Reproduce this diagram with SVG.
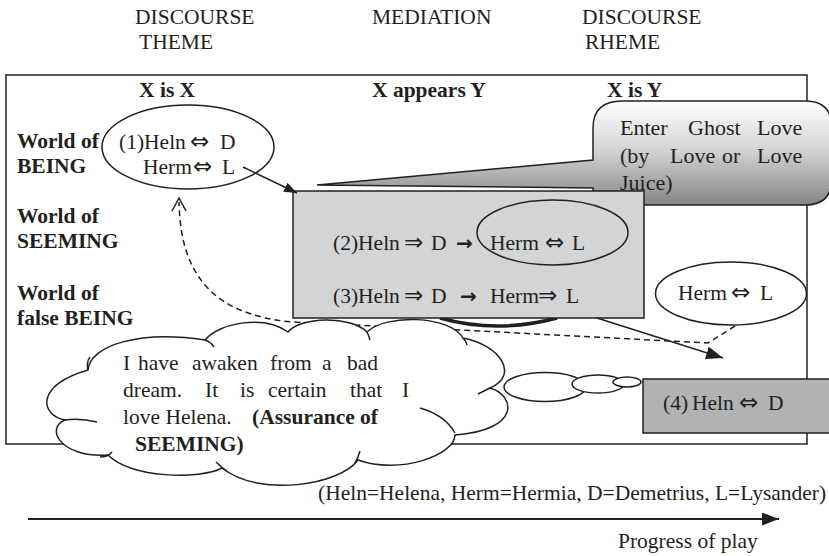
<svg xmlns="http://www.w3.org/2000/svg" width="829" height="556" viewBox="0 0 829 556">
<style>
  text { font-family: "Liberation Serif", "DejaVu Serif", serif; font-size: 21.5px; fill: #231f20; }
  .b { font-weight: bold; }
  .c { font-size: 22px; }
  .ar { font-family: "DejaVu Sans", sans-serif; font-size: 23px; }
  .ra { font-family: "DejaVu Sans", sans-serif; font-size: 20px; font-weight: bold; }
  .ln { fill: none; stroke: #231f20; stroke-width: 1.5; }
  .wf { fill: #ffffff; stroke: #231f20; stroke-width: 1.5; }
  .dash { fill: none; stroke: #231f20; stroke-width: 1.5; stroke-dasharray: 6 4; }
</style>
<defs>
  <linearGradient id="callGrad" gradientUnits="userSpaceOnUse" x1="0" y1="101" x2="0" y2="205">
    <stop offset="0" stop-color="#ffffff"/>
    <stop offset="0.45" stop-color="#d6d6d6"/>
    <stop offset="1" stop-color="#858585"/>
  </linearGradient>
  <marker id="headS" markerUnits="userSpaceOnUse" markerWidth="13" markerHeight="10" refX="13" refY="5" orient="auto">
    <path d="M0,0 L13,5 L0,10 z" fill="#231f20"/>
  </marker>
  <marker id="headL" markerUnits="userSpaceOnUse" markerWidth="17" markerHeight="13" refX="17" refY="6.5" orient="auto">
    <path d="M0,0 L17,6.5 L0,13 z" fill="#231f20"/>
  </marker>
</defs>

<g id="headers">
  <text x="135" y="24">DISCOURSE</text>
  <text x="139" y="49">THEME</text>
  <text x="372" y="24">MEDIATION</text>
  <text x="582" y="24">DISCOURSE</text>
  <text x="585" y="49">RHEME</text>
</g>

<g id="frame">
  <rect x="6" y="75" width="801" height="369" fill="#ffffff" stroke="#231f20" stroke-width="1.5"/>
  <text class="b" x="139" y="97">X is X</text>
  <text class="b" x="372" y="97">X appears Y</text>
  <text class="b" x="607" y="97">X is Y</text>
  <text class="b" x="17" y="148">World of</text>
  <text class="b" x="17" y="173">BEING</text>
  <text class="b" x="17" y="223">World of</text>
  <text class="b" x="17" y="248">SEEMING</text>
  <text class="b" x="17" y="300">World of</text>
  <text class="b" x="17" y="325">false BEING</text>
</g>

<g id="being">
  <ellipse class="wf" cx="188" cy="147" rx="86" ry="42"/>
  <text y="149"><tspan x="119">(1)Heln</tspan><tspan class="ar" x="190">⇔</tspan><tspan x="220">D</tspan></text>
  <text y="174"><tspan x="143">Herm</tspan><tspan class="ar" x="193">⇔</tspan><tspan x="222">L</tspan></text>
</g>

<g id="callout">
  <path d="M593,160 V128 Q593,101 622,101 H805 Q832,101 832,128 V178 Q832,205 805,205 H622 Q593,205 593,188 L317,185 Z" fill="url(#callGrad)" stroke="#231f20" stroke-width="1.5"/>
  <text class="c" y="135"><tspan x="620">Enter</tspan><tspan x="688">Ghost</tspan><tspan x="757">Love</tspan></text>
  <text class="c" y="163"><tspan x="620">(by</tspan><tspan x="670">Love</tspan><tspan x="722">or</tspan><tspan x="757">Love</tspan></text>
  <text class="c" x="620" y="190">Juice)</text>
</g>

<g id="mediation">
  <path d="M440,318 Q497,334 557,318" fill="none" stroke="#231f20" stroke-width="3.5"/>
  <rect x="293" y="191" width="351" height="127" fill="#d3d4d6" stroke="#231f20" stroke-width="1.5"/>
  <ellipse class="ln" cx="552.5" cy="232.5" rx="75.5" ry="32.5"/>
  <text y="250"><tspan x="333">(2)Heln</tspan><tspan class="ar" x="404">⇒</tspan><tspan x="431">D</tspan><tspan class="ra" x="456">→</tspan><tspan x="490">Herm</tspan><tspan class="ar" x="545">⇔</tspan><tspan x="572">L</tspan></text>
  <text y="303"><tspan x="333">(3)Heln</tspan><tspan class="ar" x="404">⇒</tspan><tspan x="431">D</tspan><tspan class="ra" x="460">→</tspan><tspan x="490">Herm</tspan><tspan class="ar" x="538">⇒</tspan><tspan x="566">L</tspan></text>
</g>

<g id="connectors">
  <line class="ln" x1="243" y1="167" x2="297" y2="193" marker-end="url(#headS)"/>
  <path class="dash" d="M735,326 L708,343 L460,330 L292,322 C250,318 222,305 205,285 C188,265 180,240 179,202"/>
  <polyline class="ln" points="172,211 179,198 186,211"/>
  <line class="ln" x1="597" y1="318" x2="723" y2="358" marker-end="url(#headL)"/>
  <line x1="28" y1="519" x2="779" y2="519" stroke="#231f20" stroke-width="2" marker-end="url(#headL)"/>
</g>

<g id="rheme">
  <ellipse class="wf" cx="731" cy="293.5" rx="75.5" ry="31.5"/>
  <text y="300"><tspan x="678">Herm</tspan><tspan class="ar" x="731">⇔</tspan><tspan x="760">L</tspan></text>
</g>

<g id="thought">
  <path class="wf" d="M88,370 C90,345 140,330 205,340 C220,322 265,315 288,332 C300,317 350,315 367,332 C385,314 450,315 463,338 C500,345 520,375 490,388 C515,395 522,430 455,435 C455,455 400,475 358,460 C340,485 260,498 222,468 C200,480 130,478 108,455 C60,458 45,428 65,420 C40,415 35,385 88,370 Z"/>
  <path class="ln" d="M65,420 Q80,418 97,422 M100,457 Q108,457 112,452 M228,472 Q222,468 216,462 M355,463 Q358,458 360,451 M455,433 Q445,415 420,408 M490,388 Q484,391 478,394 M88,370 Q86,362 90,357 M205,340 Q211,342 214,347 M367,332 Q369,336 370,340 M463,338 Q466,341 467,345"/>
  <text y="370"><tspan x="123">I</tspan><tspan x="138">have</tspan><tspan x="192">awaken</tspan><tspan x="270">from</tspan><tspan x="322">a</tspan><tspan x="347">bad</tspan></text>
  <text y="397"><tspan x="123">dream.</tspan><tspan x="205">It</tspan><tspan x="240">is</tspan><tspan x="268">certain</tspan><tspan x="350">that</tspan><tspan x="402">I</tspan></text>
  <text y="424"><tspan x="123">love Helena.</tspan><tspan x="252" class="b">(Assurance of</tspan></text>
  <text class="b" x="135" y="451">SEEMING)</text>
  <ellipse class="wf" cx="545" cy="387" rx="41" ry="14.5"/>
  <ellipse class="wf" cx="598" cy="384" rx="26" ry="9"/>
  <ellipse class="wf" cx="627" cy="382" rx="14" ry="5"/>
</g>

<g id="false-being">
  <rect x="643" y="379" width="200" height="54" fill="#b1b2b4" stroke="#231f20" stroke-width="1.5"/>
  <text y="410"><tspan x="663">(4)</tspan><tspan x="692">Heln</tspan><tspan class="ar" x="739">⇔</tspan><tspan x="768">D</tspan></text>
</g>

<g id="legend">
  <text x="318" y="500">(Heln=Helena, Herm=Hermia, D=Demetrius, L=Lysander)</text>
  <text x="618" y="548">Progress of play</text>
</g>
</svg>
